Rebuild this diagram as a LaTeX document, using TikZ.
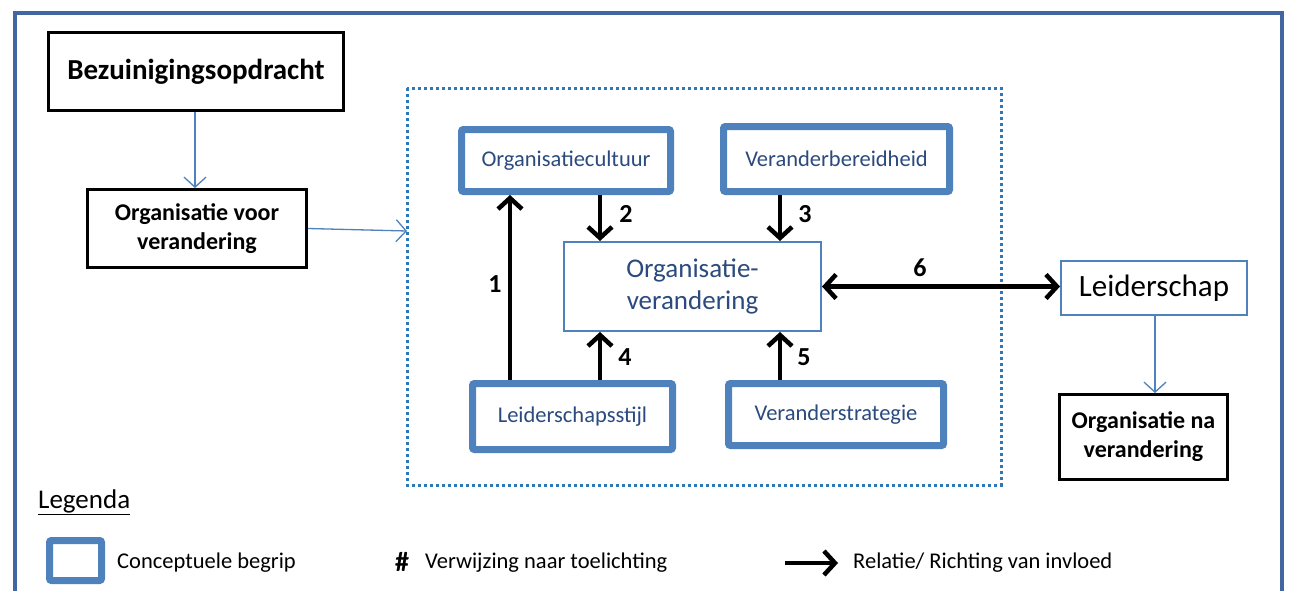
\documentclass[tikz,border=0pt]{standalone}
\usepackage{fontspec}
\setmainfont{Carlito}
\usetikzlibrary{arrows.meta}
\definecolor{frameblue}{HTML}{41679E}
\definecolor{boxblue}{HTML}{4F81BD}
\definecolor{txtblue}{HTML}{2B4A7E}
\definecolor{dotblue}{HTML}{2E78B8}
\tikzset{
  concept/.style={draw=boxblue, line width=7pt, rounded corners=2pt, fill=white,
    text=txtblue, font=\fontsize{22.5}{26}\selectfont, inner sep=0pt, anchor=north west},
  plainbox/.style={draw=black, line width=3pt, fill=white, inner sep=0pt, anchor=north west,
    align=center, font=\bfseries\fontsize{24}{29}\selectfont},
  thinbox/.style={draw=boxblue, line width=2pt, fill=white, inner sep=0pt, anchor=north west, align=center},
  flow/.style={draw=boxblue, line width=1.3pt, -{Straight Barb[length=10pt,width=22pt,line width=1.3pt]}},
  rel/.style={draw=black, line width=4.5pt, -{Straight Barb[length=11pt,width=24pt,line width=4.5pt]}},
  relboth/.style={draw=black, line width=4.5pt, {Straight Barb[length=11pt,width=24pt,line width=4.5pt]}-{Straight Barb[length=11pt,width=24pt,line width=4.5pt]}},
  num/.style={font=\bfseries\fontsize{26}{30}\selectfont, inner sep=0pt},
  legtext/.style={anchor=west, inner sep=0pt, font=\fontsize{22.5}{26}\selectfont},
}
\begin{document}
\begin{tikzpicture}[x=1pt,y=-1pt]
\useasboundingbox (0,0) rectangle (1290,590);
\fill[white] (0,0) rectangle (1290,590);
\begin{scope}
\clip (0,0) rectangle (1290,590);
% outer frame, running past the lower edge
\draw[frameblue, line width=4pt] (15,13) rectangle (1282,620);
\end{scope}

% input side
\node[plainbox, minimum width=295pt, minimum height=78pt, font=\bfseries\fontsize{29}{34}\selectfont] (bez) at (47,31) {Bezuinigingsopdracht};
\node[plainbox, minimum width=219pt, minimum height=78pt] (voor) at (86,188) {Organisatie voor\\verandering};

% dotted frame around the concepts
\draw[dotblue, line width=3pt, dash pattern=on 3pt off 3pt] (407,88) rectangle (1001,485);
\coordinate (dotleft) at (407,231);

% concepts
\node[concept, minimum width=209pt, minimum height=62pt] (cult) at (458,126) {Organisatiecultuur};
\node[concept, minimum width=226pt, minimum height=65pt] (bereid) at (720,123) {Veranderbereidheid};
\node[thinbox, minimum width=257pt, minimum height=89pt, text=txtblue, font=\fontsize{27}{32}\selectfont] (ov) at (563,241) {Organisatie-\\verandering};
\node[concept, minimum width=200pt, minimum height=66pt] (stijl) at (469,380) {Leiderschapsstijl};
\node[concept, minimum width=215pt, minimum height=62pt] (strat) at (725,380) {Veranderstrategie};

% output side
\node[thinbox, minimum width=186pt, minimum height=54pt, font=\fontsize{31}{36}\selectfont] (leid) at (1060,260) {Leiderschap};
\node[plainbox, minimum width=168pt, minimum height=85pt] (na) at (1058,393) {Organisatie na\\verandering};

% thin flow arrows
\draw[flow] (bez.south -| 195,0) -- (voor.north -| 195,0);
\draw[flow] (voor.east) -- (dotleft);
\draw[flow] (leid.south -| 1155,0) -- (na.north -| 1155,0);

% relations
\draw[rel] (stijl.north -| 510,0) -- (cult.south -| 510,0);
\node[num] at (495,284) {1};
\draw[rel] (cult.south -| 600,0) -- (ov.north -| 600,0);
\node[num] at (626,214) {2};
\draw[rel] (bereid.south -| 780,0) -- (ov.north -| 780,0);
\node[num] at (805,214) {3};
\draw[rel] (stijl.north -| 600,0) -- (ov.south -| 600,0);
\node[num] at (625,357) {4};
\draw[rel] (strat.north -| 780,0) -- (ov.south -| 780,0);
\node[num] at (804,357) {5};
\draw[relboth] (ov.east) -- (ov.east -| leid.west);
\node[num] at (920,268) {6};

% legend
\node[legtext, font=\fontsize{27}{30}\selectfont] (leg) at (38,502) {\underline{Legenda}};
\node[concept, minimum width=52pt, minimum height=40pt] (legbox) at (46,537) {};
\node[legtext] (legc) at (117,563) {Conceptuele begrip};
\node[anchor=west, inner sep=0pt, font=\bfseries\fontsize{28}{30}\selectfont] (hash) at (395,562) {\#};
\node[legtext] (legv) at (425,563) {Verwijzing naar toelichting};
\coordinate (la) at (785,563);
\coordinate (lb) at (838,563);
\draw[rel] (la) -- (lb);
\node[legtext] (legr) at (853,563) {Relatie/ Richting van invloed};
\end{tikzpicture}
\end{document}
